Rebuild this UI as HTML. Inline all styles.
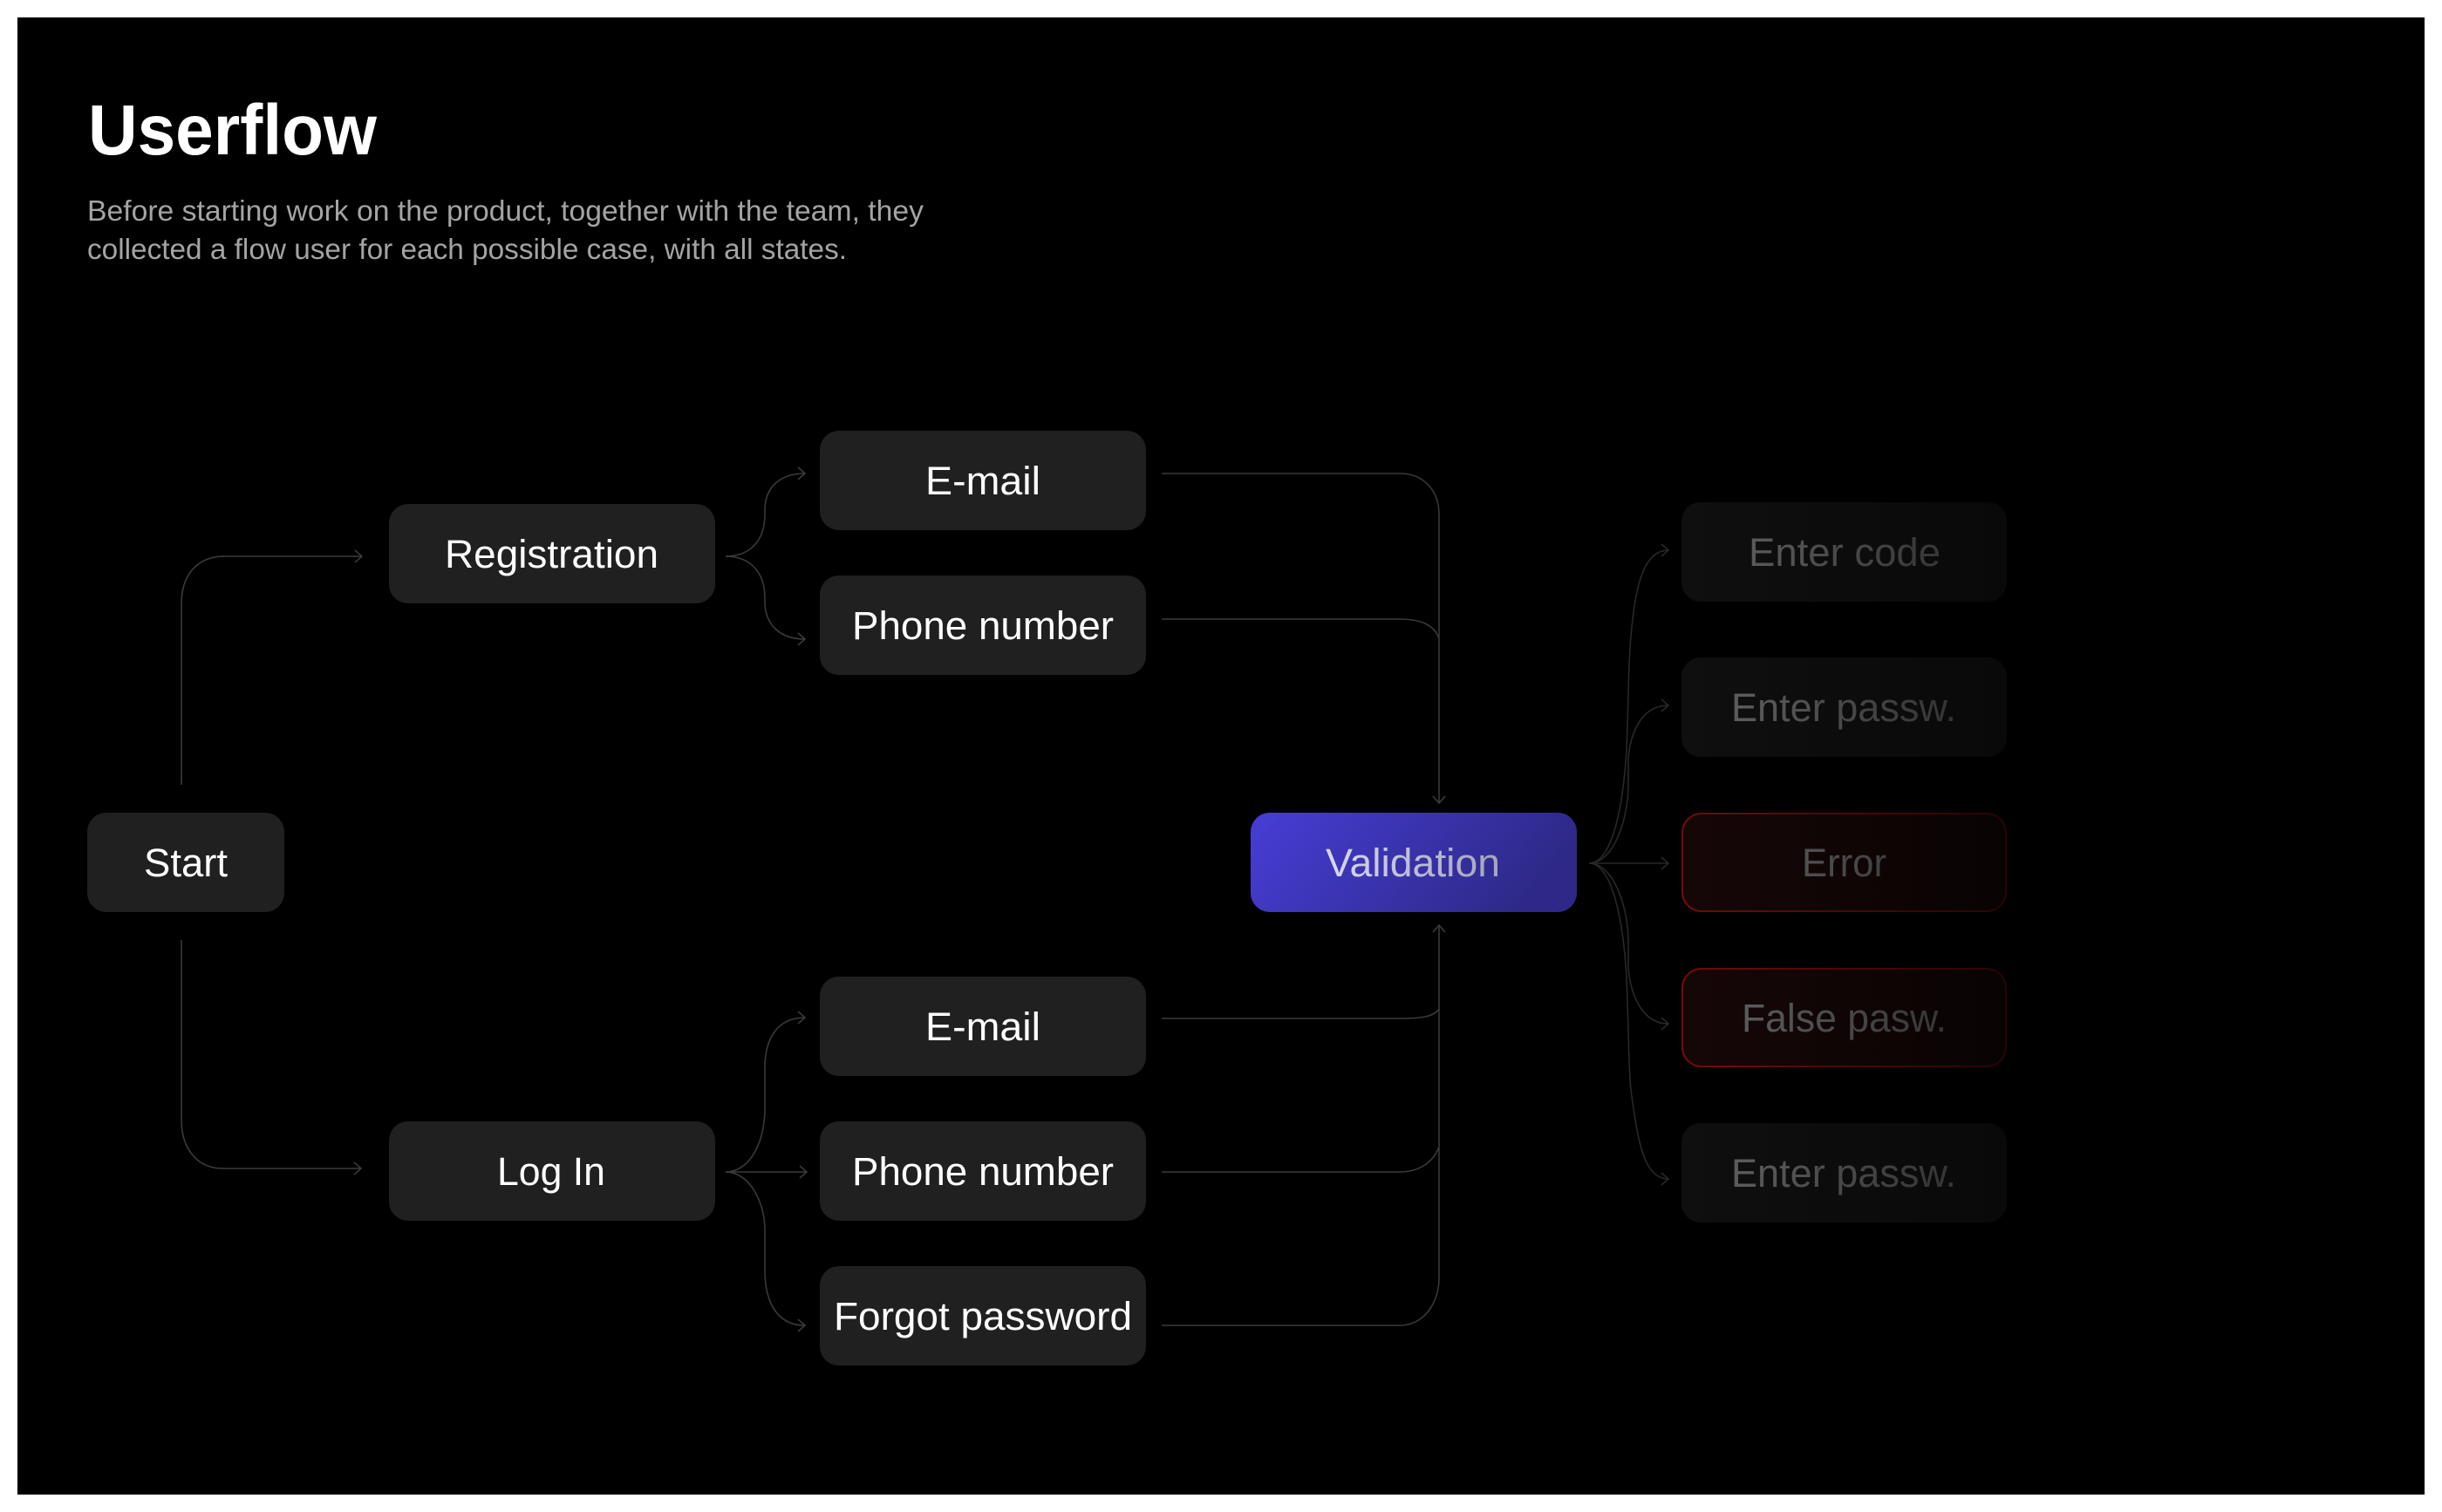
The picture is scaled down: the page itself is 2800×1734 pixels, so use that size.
<!DOCTYPE html>
<html lang="en">
<head>
<meta charset="utf-8">
<title>Userflow</title>
<style>
html,body{margin:0;padding:0;background:#fff;width:2800px;height:1734px;overflow:hidden}
svg{display:block}
text{font-family:"Liberation Sans",sans-serif}
</style>
</head>
<body>
<svg xmlns="http://www.w3.org/2000/svg" width="2800" height="1734" viewBox="0 0 2800 1734">
<defs>
<linearGradient id="val" x1="0" y1="0" x2="1" y2="0.25"><stop offset="0" stop-color="#473dd6"/><stop offset="1" stop-color="#2e2988"/></linearGradient>
<linearGradient id="dim" x1="0" y1="0" x2="1" y2="0"><stop offset="0" stop-color="#0f0f0f"/><stop offset="1" stop-color="#090909"/></linearGradient>
<linearGradient id="red" x1="0" y1="0" x2="1" y2="0"><stop offset="0" stop-color="#160707"/><stop offset="1" stop-color="#090303"/></linearGradient>
<linearGradient id="redb" x1="0" y1="0" x2="1" y2="0"><stop offset="0" stop-color="#740b0b"/><stop offset="1" stop-color="#270505"/></linearGradient>
<linearGradient id="t1" gradientUnits="userSpaceOnUse" x1="1980" y1="0" x2="2250" y2="0"><stop offset="0" stop-color="#5e5e5e"/><stop offset="1" stop-color="#323232"/></linearGradient>
<linearGradient id="tv" gradientUnits="userSpaceOnUse" x1="1520" y1="0" x2="1720" y2="0"><stop offset="0" stop-color="#d8d8ee"/><stop offset="1" stop-color="#a4a4bc"/></linearGradient>
</defs>
<rect x="20" y="20" width="2760" height="1694" fill="#000"/>

<text x="101" y="177" font-size="82" font-weight="700" fill="#fff" textLength="331" lengthAdjust="spacingAndGlyphs">Userflow</text>
<text x="100" y="253" font-size="33" fill="#a4a4a4" textLength="959" lengthAdjust="spacingAndGlyphs">Before starting work on the product, together with the team, they</text>
<text x="100" y="297" font-size="33" fill="#a4a4a4" textLength="871" lengthAdjust="spacingAndGlyphs">collected a flow user for each possible case, with all states.</text>

<!-- connectors left/center -->
<g fill="none" stroke="#3a3a3a" stroke-width="1.6">
<path d="M208 900V693C208 660 225 638 258 638H415"/><path d="M407 631L415 638L407 645"/>
<path d="M208 1078V1284C208 1316 225 1340 255 1340H414"/><path d="M406 1333L414 1340L406 1347"/>
<path d="M832 638C860 638 877 620 877 590V585C877 560 893 543 923 543"/><path d="M915 536L923 543L915 550"/>
<path d="M832 638C860 638 877 656 877 686V690C877 715 893 733 923 733"/><path d="M915 726L923 733L915 740"/>
<path d="M832 1344H925"/><path d="M917 1337L925 1344L917 1351"/>
<path d="M832 1344C860 1344 877 1310 877 1270V1225C877 1190 892 1167 923 1167"/><path d="M915 1160L923 1167L915 1174"/>
<path d="M832 1344C860 1344 877 1380 877 1410V1456C877 1495 892 1520 923 1520"/><path d="M915 1513L923 1520L915 1527"/>
<path d="M1332 543H1605C1632 543 1650 562 1650 590V921"/><path d="M1643 913L1650 921L1657 913"/>
<path d="M1332 710H1605C1628 710 1644 716 1650 732"/>
<path d="M1650 1061V1466C1650 1495 1632 1520 1605 1520H1332"/><path d="M1643 1069L1650 1061L1657 1069"/>
<path d="M1332 1168H1605C1630 1168 1644 1166 1650 1157"/>
<path d="M1332 1344H1605C1628 1344 1644 1332 1650 1315"/>
</g>
<!-- connectors right -->
<g fill="none" stroke="#282828" stroke-width="1.6">
<path d="M1822 990H1913"/><path d="M1905 983L1913 990L1905 997"/>
<path d="M1822 990C1845 990 1860 940 1865 860C1868 780 1867 760 1870 730C1875 670 1885 631 1913 631"/><path d="M1905 624L1913 631L1905 638"/>
<path d="M1822 990C1850 990 1867 940 1867 900V870C1870 835 1885 809 1913 809"/><path d="M1905 802L1913 809L1905 816"/>
<path d="M1822 990C1850 990 1867 1040 1867 1080V1110C1870 1145 1885 1174 1913 1174"/><path d="M1905 1167L1913 1174L1905 1181"/>
<path d="M1822 990C1845 990 1860 1040 1865 1120C1868 1200 1867 1220 1870 1250C1878 1310 1885 1352 1913 1352"/><path d="M1905 1345L1913 1352L1905 1359"/>
</g>

<!-- main cards -->
<g fill="#202020">
<rect x="100" y="932" width="226" height="114" rx="22"/>
<rect x="446" y="578" width="374" height="114" rx="22"/>
<rect x="446" y="1286" width="374" height="114" rx="22"/>
<rect x="940" y="494" width="374" height="114" rx="22"/>
<rect x="940" y="660" width="374" height="114" rx="22"/>
<rect x="940" y="1120" width="374" height="114" rx="22"/>
<rect x="940" y="1286" width="374" height="114" rx="22"/>
<rect x="940" y="1452" width="374" height="114" rx="22"/>
</g>
<g font-size="45" fill="#fff">
<text x="165" y="1005" textLength="96" lengthAdjust="spacingAndGlyphs">Start</text>
<text x="510" y="651" textLength="245" lengthAdjust="spacingAndGlyphs">Registration</text>
<text x="570" y="1359" textLength="124" lengthAdjust="spacingAndGlyphs">Log In</text>
<text x="1061" y="567" textLength="132" lengthAdjust="spacingAndGlyphs">E-mail</text>
<text x="977" y="733" textLength="300" lengthAdjust="spacingAndGlyphs">Phone number</text>
<text x="1061" y="1193" textLength="132" lengthAdjust="spacingAndGlyphs">E-mail</text>
<text x="977" y="1359" textLength="300" lengthAdjust="spacingAndGlyphs">Phone number</text>
<text x="956" y="1525" textLength="342" lengthAdjust="spacingAndGlyphs">Forgot password</text>
</g>

<!-- validation -->
<rect x="1434" y="932" width="374" height="114" rx="22" fill="url(#val)"/>
<text x="1520" y="1005" font-size="45" fill="url(#tv)" textLength="200" lengthAdjust="spacingAndGlyphs">Validation</text>

<!-- dim cards -->
<rect x="1928" y="576" width="373" height="114" rx="22" fill="url(#dim)"/>
<rect x="1928" y="754" width="373" height="114" rx="22" fill="url(#dim)"/>
<rect x="1928" y="1288" width="373" height="114" rx="22" fill="url(#dim)"/>
<rect x="1929" y="933" width="371" height="112" rx="22" fill="url(#red)" stroke="url(#redb)" stroke-width="2"/>
<rect x="1929" y="1111" width="371" height="112" rx="22" fill="url(#red)" stroke="url(#redb)" stroke-width="2"/>
<g font-size="45" fill="url(#t1)">
<text x="2005" y="649" textLength="220" lengthAdjust="spacingAndGlyphs">Enter code</text>
<text x="1985" y="827" textLength="258" lengthAdjust="spacingAndGlyphs">Enter passw.</text>
<text x="2066" y="1005" textLength="97" lengthAdjust="spacingAndGlyphs">Error</text>
<text x="1997" y="1183" textLength="235" lengthAdjust="spacingAndGlyphs">False pasw.</text>
<text x="1985" y="1361" textLength="258" lengthAdjust="spacingAndGlyphs">Enter passw.</text>
</g>
</svg>
</body>
</html>
